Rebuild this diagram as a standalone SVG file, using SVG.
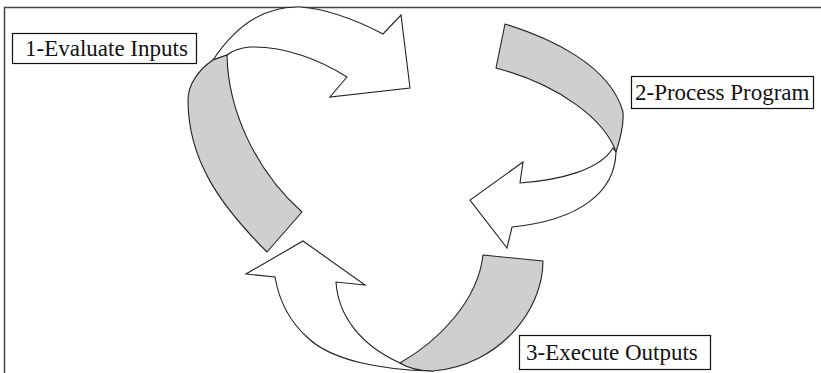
<svg xmlns="http://www.w3.org/2000/svg" width="821" height="373" viewBox="0 0 821 373">
<style>
.frame{fill:none;stroke:#444;stroke-width:1.5}
.band{fill:#cfcfcf;stroke:#222;stroke-width:1.1;stroke-linejoin:round}
.arrow{fill:#fff;stroke:#222;stroke-width:1.1;stroke-linejoin:miter}
.box{fill:#fff;stroke:#111;stroke-width:1.2}
.lbl{font-family:"Liberation Serif","Times New Roman",serif;font-size:23px;fill:#111}
</style>
<rect width="821" height="373" fill="#fff"/>
<path class="frame" d="M4.5,373 V7.5 H821"/>
<g id="connectors">
  <path class="arrow" d="M213,60 C238,22 268,6 300,7 C330,9 360,22 383,34 L401,15 L410,88 L330,97 L347,77 C320,60 285,46 250,47 C240,48 232,51 227,55 Z"/>
  <path class="band" d="M213,60 L227,55 C228,110 255,170 302,212 L267,252 C220,205 188,160 188,100 C188,85 198,70 213,60 Z"/>
  <path class="arrow" d="M616,152 C615,192 580,220 512,227 L507,248 L470,200 L523,162 L520,183 C560,180 600,170 613,148 Z"/>
  <path class="band" d="M505,24 C550,38 610,65 623,112 C624,125 620,140 616,152 C605,120 560,85 496,68 Z"/>
  <path class="arrow" d="M433,371 C380,370 330,360 307,337 C288,320 279,300 275,277 L246,274 L303,241 L365,285 L336,282 C338,315 360,345 400,363 C410,368 420,370 433,371 Z"/>
  <path class="band" d="M483,255 L543,261 C543,310 500,365 433,371 C420,371 408,368 400,363 C440,340 478,300 483,255 Z"/>
</g>
<g id="node1">
  <rect class="box" x="12.5" y="33.5" width="184" height="30"/>
  <text class="lbl" x="25" y="56">1-Evaluate Inputs</text>
</g>
<g id="node2">
  <rect class="box" x="631.5" y="76.5" width="182" height="32"/>
  <text class="lbl" x="635" y="100">2-Process Program</text>
</g>
<g id="node3">
  <rect class="box" x="519.5" y="335.5" width="191" height="34"/>
  <text class="lbl" x="526" y="360">3-Execute Outputs</text>
</g>
</svg>
